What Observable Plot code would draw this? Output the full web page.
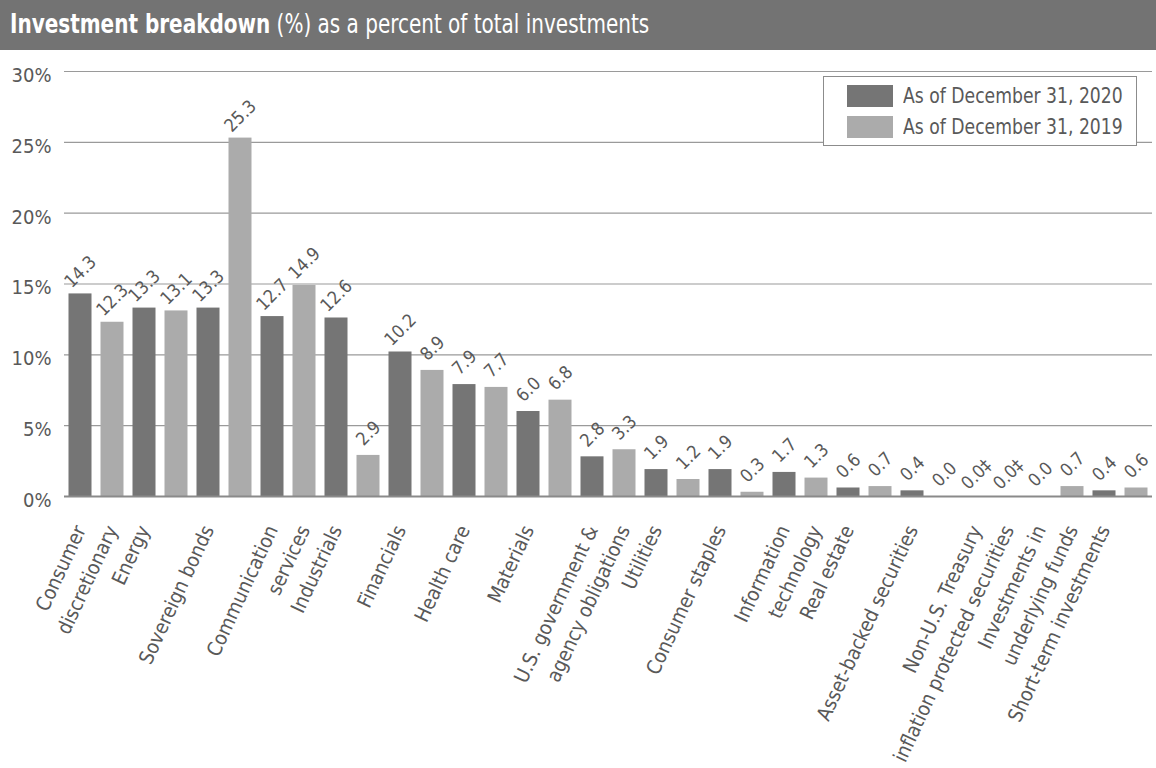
<!DOCTYPE html>
<html>
<head>
<meta charset="utf-8">
<script src="https://cdn.jsdelivr.net/npm/d3@7"></script>
<script src="https://cdn.jsdelivr.net/npm/@observablehq/plot@0.6"></script>
<style>
  html, body { margin: 0; padding: 0; background: #fff; }
  body { font-family: "Liberation Sans Narrow", "DejaVu Sans Condensed", "Roboto", sans-serif; }
  #wrap { position: relative; width: 1156px; height: 768px; overflow: hidden; }
  #header { height: 50px; background: #737373; color: #fff; font-size: 26px; line-height: 48px; padding-left: 10px; white-space: nowrap; box-sizing: border-box; }
  #header span.t { display: inline-block; transform: scaleX(0.855); transform-origin: 0 50%; }
  #header b { font-weight: bold; }
  #chart svg { display: block; }
  #legend { position: absolute; left: 823px; top: 76px; width: 314px; height: 70px; box-sizing: border-box; border: 1.5px solid #8c8c8c; background: #fff; }
  .sw { position: absolute; left: 23px; width: 46px; height: 22px; }
  .lt { position: absolute; left: 79px; font-size: 22px; color: #595959; line-height: 22px; white-space: nowrap; transform: scaleX(0.87); transform-origin: 0 50%; }
</style>
</head>
<body>
<div id="wrap">
  <div id="header"><span class="t"><b>Investment breakdown</b> (%) as a percent of total investments</span></div>
  <div id="chart"></div>
  <div id="legend"></div>
</div>
<script>
const categories = [
  "Consumer\ndiscretionary",
  "Energy",
  "Sovereign bonds",
  "Communication\nservices",
  "Industrials",
  "Financials",
  "Health care",
  "Materials",
  "U.S. government &\nagency obligations",
  "Utilities",
  "Consumer staples",
  "Information\ntechnology",
  "Real estate",
  "Asset-backed securities",
  "Non-U.S. Treasury\ninflation protected securities",
  "Investments in\nunderlying funds",
  "Short-term investments"
];
const values2020 = [14.3, 13.3, 13.3, 12.7, 12.6, 10.2, 7.9, 6.0, 2.8, 1.9, 1.9, 1.7, 0.6, 0.4, 0.0, 0.0, 0.4];
const values2019 = [12.3, 13.1, 25.3, 14.9, 2.9, 8.9, 7.7, 6.8, 3.3, 1.2, 0.3, 1.3, 0.7, 0.0, 0.0, 0.7, 0.6];
const footnoted = ["Non-U.S. Treasury\ninflation protected securities"];
const seriesKeys = ["2020", "2019"];
const seriesNames = ["As of December 31, 2020", "As of December 31, 2019"];
const seriesColors = ["#757575", "#ababab"];
const yTicks = [0, 5, 10, 15, 20, 25, 30];

const rows = categories.flatMap((c, i) => [
  {category: c, series: "2020", value: values2020[i]},
  {category: c, series: "2019", value: values2019[i]}
]).map(d => ({...d, label: d.value.toFixed(1) + (footnoted.includes(d.category) ? "‡" : "")}));

const labelRows = categories.flatMap(c => c.split("\n").map((t, i) => ({category: c, line: i, text: t})));

const font = '"Liberation Sans Narrow", "DejaVu Sans Condensed", "Roboto", sans-serif';
const textColor = "#595959";

const chart = Plot.plot({
  width: 1156,
  height: 718,
  marginTop: 21,
  marginBottom: 272,
  marginLeft: 61.5,
  marginRight: 2.5,
  style: {fontFamily: font, fontSize: "20px", color: textColor, background: "transparent", overflow: "visible"},
  fx: {domain: categories, paddingInner: 0, paddingOuter: 0, axis: null, label: null},
  x: {domain: seriesKeys, paddingInner: 0.28, paddingOuter: 0.14, axis: null},
  y: {domain: [0, 30], axis: null},
  color: {domain: seriesKeys, range: seriesColors},
  marks: [
    Plot.ruleY(yTicks.filter(t => t > 0), {stroke: "#9a9a9a", strokeWidth: 1.2}),
    Plot.axisY(yTicks, {tickSize: 0, tickPadding: 13, tickFormat: d => d + "%", label: null, fontSize: 20, dy: 4, fill: textColor}),
    Plot.barY(rows, {fx: "category", x: "series", y: "value", fill: "series"}),
    Plot.ruleY([0], {stroke: "#8a8a8a", strokeWidth: 2}),
    Plot.text(rows, {fx: "category", x: "series", y: "value", text: "label", rotate: -45, dy: -22, textAnchor: "middle", lineAnchor: "middle", fontSize: 18, fill: textColor}),
    Plot.text(labelRows.filter(d => d.line === 0), {fx: "category", text: "text", frameAnchor: "bottom", textAnchor: "end", lineAnchor: "top", rotate: -65, dx: -23, dy: 27, fontSize: 20, fill: textColor}),
    Plot.text(labelRows.filter(d => d.line === 1), {fx: "category", text: "text", frameAnchor: "bottom", textAnchor: "end", lineAnchor: "top", rotate: -65, dx: 9, dy: 27, fontSize: 20, fill: textColor})
  ]
});
document.getElementById("chart").appendChild(chart);

const legend = document.getElementById("legend");
seriesNames.forEach((name, i) => {
  const sw = document.createElement("div");
  sw.className = "sw";
  sw.style.top = (8 + i * 31) + "px";
  sw.style.background = seriesColors[i];
  legend.appendChild(sw);
  const t = document.createElement("div");
  t.className = "lt";
  t.style.top = (8 + i * 31) + "px";
  t.textContent = name;
  legend.appendChild(t);
});
</script>
</body>
</html>
